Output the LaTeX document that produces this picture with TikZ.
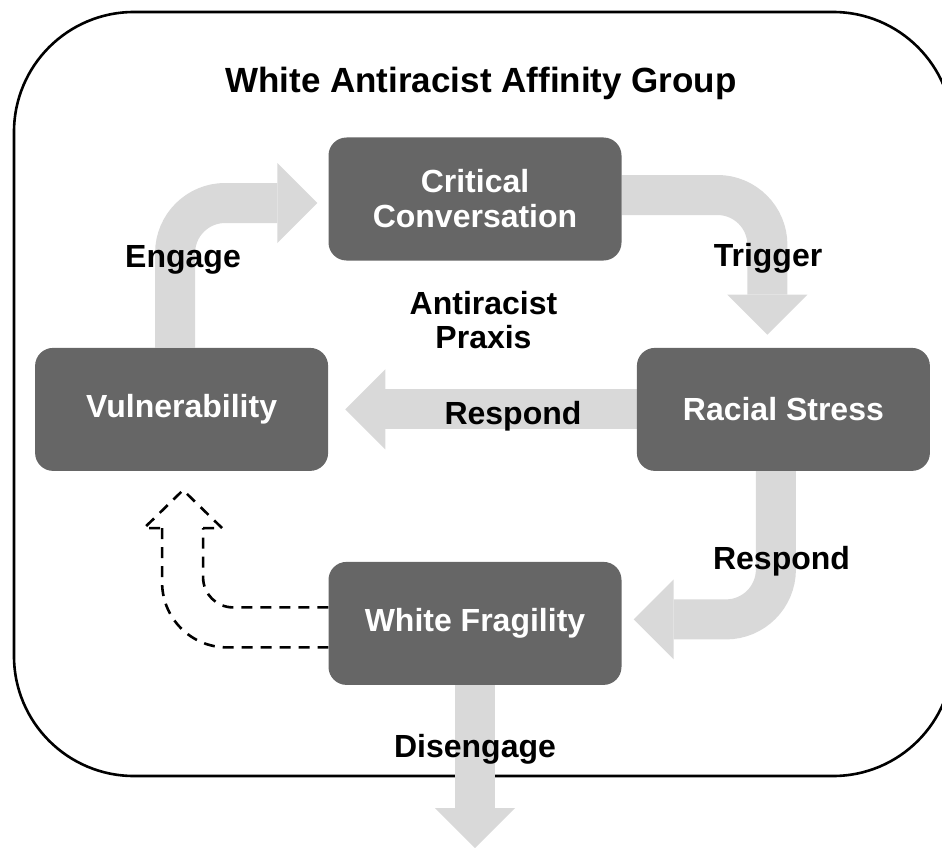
\documentclass[tikz,border=0pt]{standalone}
\usepackage{fontspec}
\setmainfont{Liberation Sans}
\usetikzlibrary{arrows.meta,positioning,calc,backgrounds}
\definecolor{boxgray}{HTML}{666666}
\definecolor{flowgray}{HTML}{D9D9D9}

\begin{document}
\begin{tikzpicture}[
  x=1pt, y=-1pt,
  box/.style={fill=boxgray,rounded corners=18pt,align=center,text=white,
              font=\fontsize{32}{35}\selectfont\bfseries,
              minimum width=293pt,minimum height=123pt,inner sep=0pt},
  lbl/.style={font=\fontsize{32}{34}\selectfont\bfseries,align=center,inner sep=0pt},
  flow/.style={draw=flowgray,line width=40pt,rounded corners=50pt,
               -{Triangle[width=80pt,length=40pt,line width=0pt]}},
  dashln/.style={line width=2.6pt,dash pattern=on 11pt off 8pt}]
\useasboundingbox (0,0) rectangle (942,848);
\node[box] (crit) at (475,199) {Critical\\ Conversation};
\node[box,below left=87pt and 0pt of crit] (vul) {Vulnerability};
\node[box,below right=87pt and 15pt of crit] (stress) {Racial Stress};
\node[box,below=301pt of crit] (frag) {White Fragility};
\node[lbl,anchor=base,font=\fontsize{35}{38}\selectfont\bfseries] (title) at (481,93)
      {White Antiracist Affinity Group};
\node[lbl,anchor=base] (engage) at (183,267) {Engage};
\node[lbl,anchor=base] (trigger) at (768,266) {Trigger};
\node[lbl] (praxis) at (483.5,320) {Antiracist\\ Praxis};
\node[lbl,anchor=base] (respmid) at (513,424) {Respond};
\node[lbl,anchor=base] (respright) at (781.5,569) {Respond};
\node[lbl,anchor=base] (diseng) at (475,757) {Disengage};
\coordinate (exit) at (475,848);
\coordinate (tip) at ([xshift=1.5pt,yshift=-19pt]vul.south);
\begin{scope}[on background layer]
\draw[line width=2.6pt,rounded corners=120pt] (14,12) rectangle (953,776);
\draw[flow] ([xshift=-6.5pt]vul.north) |- ([xshift=-11pt,yshift=-4pt]crit.west);
\draw[flow] ([yshift=4pt]crit.east) -| ([xshift=-16pt,yshift=13pt]stress.north);
\draw[flow] (stress.west) -- ([xshift=17pt]vul.east);
\draw[flow] ([xshift=-7.5pt]stress.south) |- ([xshift=12pt,yshift=4pt]frag.east);
\draw[flow] (frag.south) -- (exit);
\end{scope}
% hollow dashed arrow back to vulnerability
\draw[dashln,rounded corners=30pt] ([yshift=16pt]frag.west) -| ($(tip)+(20,38)$);
\draw[dashln] ($(tip)+(20,38)$) -- ($(tip)+(39,38)$) -- (tip) -- ($(tip)+(-39,38)$)
      -- ($(tip)+(-21,38)$);
\draw[dashln,rounded corners=65pt] ($(tip)+(-21,38)$) |- ([yshift=-24pt]frag.west);
\end{tikzpicture}
\end{document}
